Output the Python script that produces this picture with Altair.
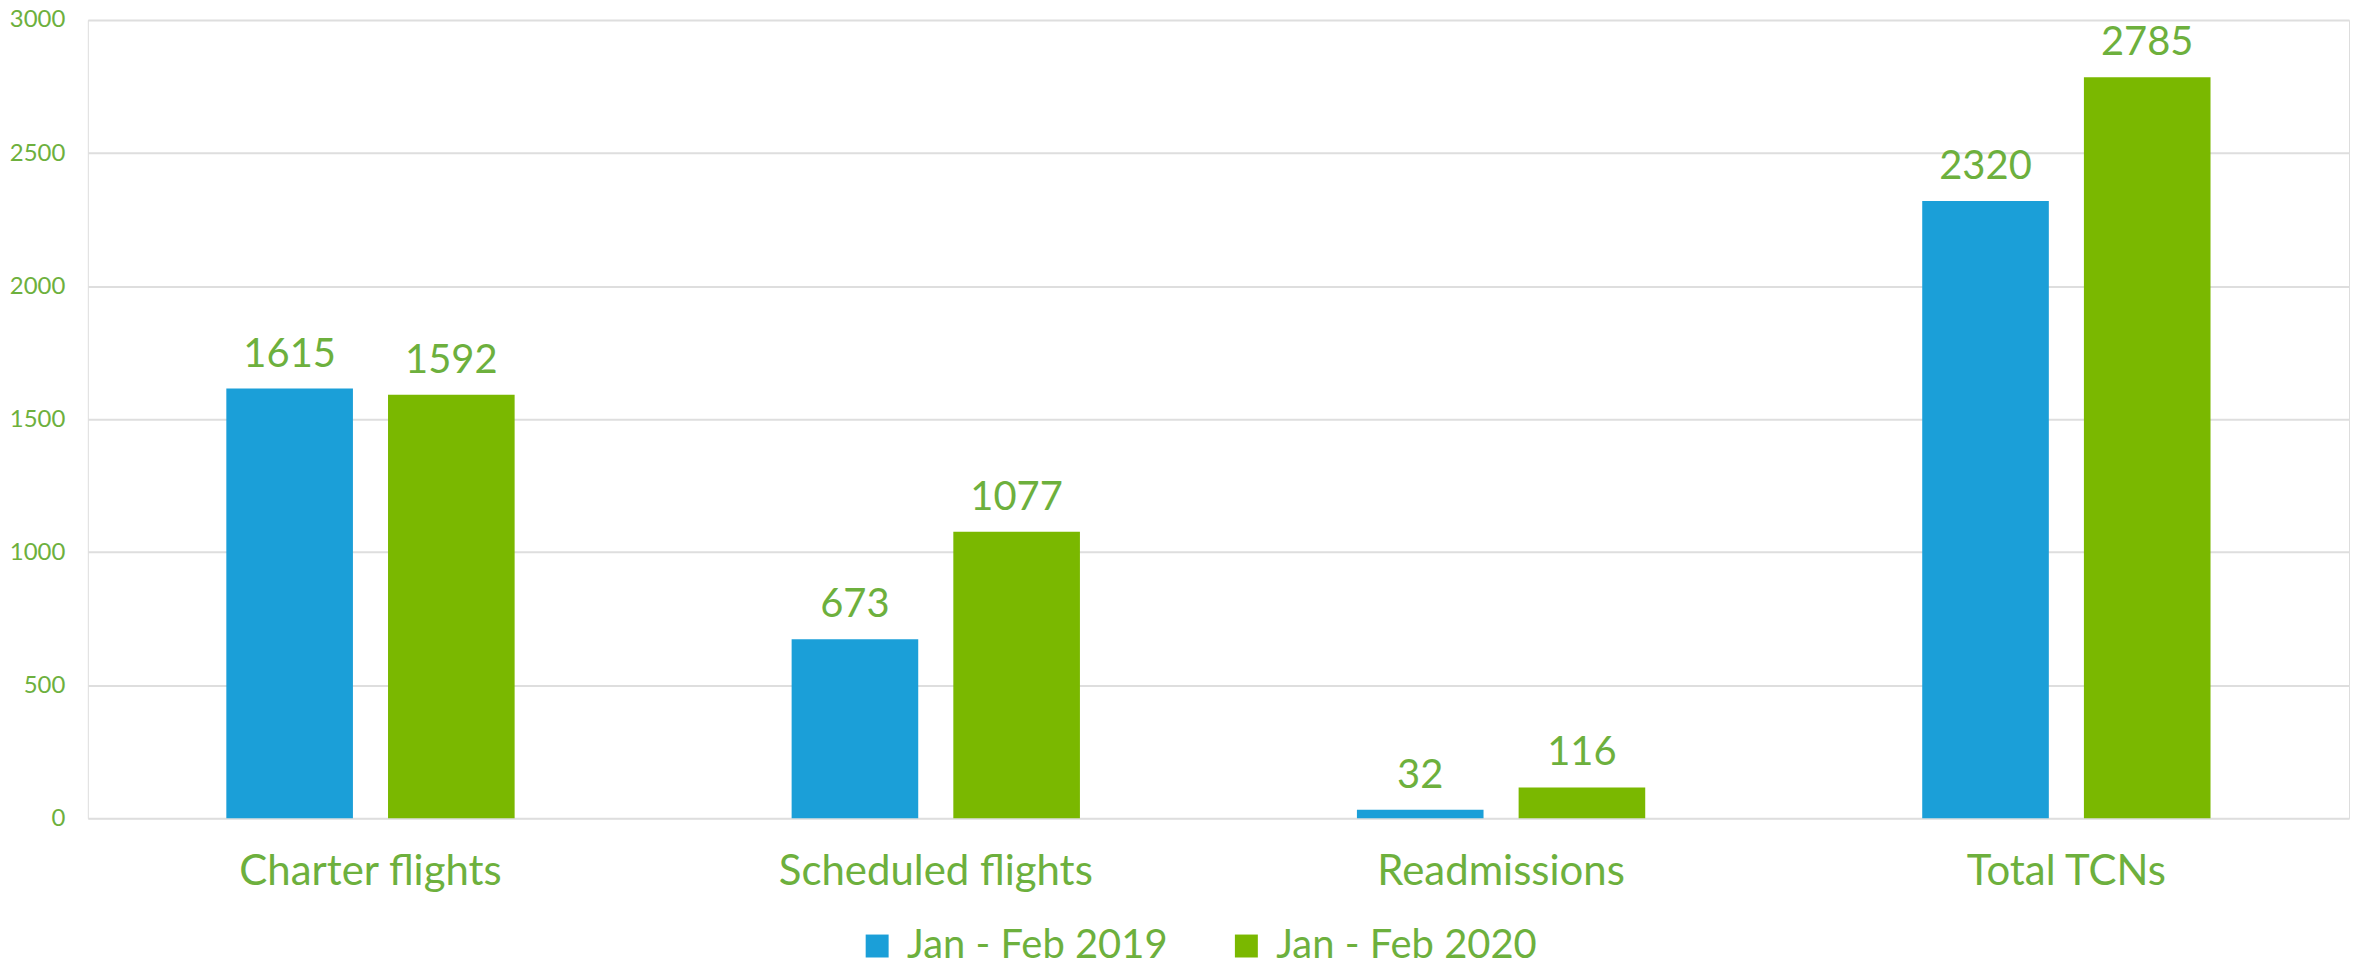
import altair as alt
import pandas as pd

categories = ["Charter flights", "Scheduled flights", "Readmissions", "Total TCNs"]
series_names = ["Jan - Feb 2019", "Jan - Feb 2020"]
values_2019 = [1615, 673, 32, 2320]
values_2020 = [1592, 1077, 116, 2785]
y_ticks = [0, 500, 1000, 1500, 2000, 2500, 3000]

rows = []
for c, a, b in zip(categories, values_2019, values_2020):
    rows.append({"category": c, "series": series_names[0], "value": a})
    rows.append({"category": c, "series": series_names[1], "value": b})
df = pd.DataFrame(rows)

FONT = "Lato"
TEXT_GREEN = "#6DB03D"
colors = ["#1B9FD8", "#7AB800"]

x = alt.X("category:N", sort=categories, title=None,
          scale=alt.Scale(paddingInner=0.49, paddingOuter=0.245),
          axis=alt.Axis(labelAngle=0, labelFontSize=42, labelColor=TEXT_GREEN,
                        labelFont=FONT, labelPadding=33, labelLimit=1000,
                        domain=False, ticks=False))
xo = alt.XOffset("series:N", sort=series_names,
                 scale=alt.Scale(paddingInner=0.217, paddingOuter=0))
y = alt.Y("value:Q", title=None,
          scale=alt.Scale(domain=[0, 3000], nice=False),
          axis=alt.Axis(values=y_ticks, format="d", labelFontSize=24,
                        labelColor=TEXT_GREEN, labelFont=FONT, labelPadding=23,
                        domain=False, ticks=False,
                        gridColor="#dedede", gridWidth=2))

bars = alt.Chart(df).mark_bar().encode(
    x=x, xOffset=xo, y=y,
    color=alt.Color("series:N", sort=series_names,
                    scale=alt.Scale(domain=series_names, range=colors),
                    legend=alt.Legend(title=None, orient="none", direction="horizontal",
                                      legendX=771, legendY=908, padding=0,
                                      symbolType="square", symbolSize=529,
                                      symbolStrokeWidth=0, symbolOpacity=1,
                                      labelFontSize=40, labelColor=TEXT_GREEN,
                                      labelFont=FONT, labelOffset=10,
                                      columnPadding=58, labelLimit=500))
)

labels = alt.Chart(df).mark_text(
    dy=-22, baseline="alphabetic", align="center", fontSize=40,
    font=FONT, color=TEXT_GREEN
).encode(x=x, xOffset=xo, y=y, text=alt.Text("value:Q"))

chart = alt.layer(bars, labels).properties(
    width=2266, height=800,
    autosize=alt.AutoSizeParams(type="none"),
    padding={"left": 80, "top": 11, "right": 10, "bottom": 145},
).configure_view(stroke=None).configure(background="white")

chart.save("out.html", embed_options={"renderer": "svg", "actions": False})
